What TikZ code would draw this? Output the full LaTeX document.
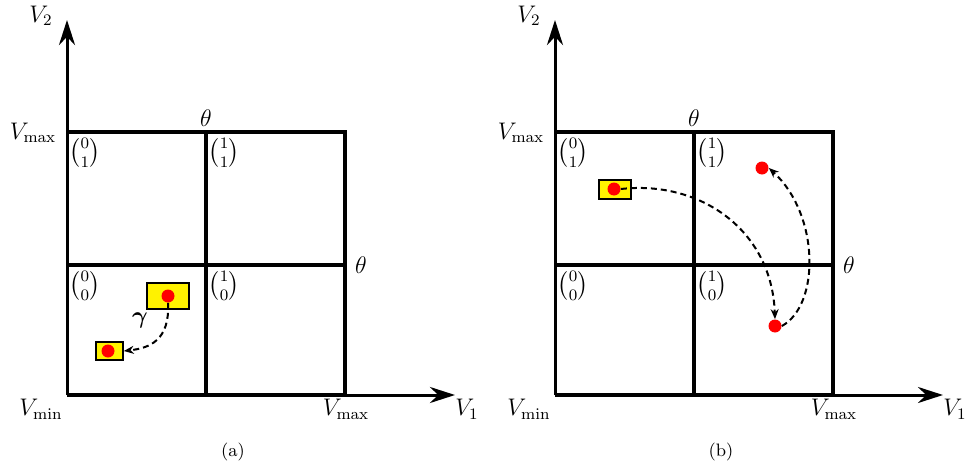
\documentclass[tikz,border=0pt]{standalone}
\usepackage{amsmath}
\usetikzlibrary{arrows.meta}
\begin{document}
\begin{tikzpicture}[x=0.5pt,y=-0.5pt,
  axis/.style={line width=1.5pt,-{Stealth[length=12.5pt,width=8pt]}},
  gridline/.style={line width=2pt},
  lbl/.style={inner sep=0pt,font=\large},
  cell/.style={inner sep=0pt,font=\large},
  captxt/.style={inner sep=0pt,font=\small},
  ybox/.style={draw,line width=0.8pt,fill=yellow,minimum width=#1,inner sep=0pt},
  rdot/.style={circle,fill=red,minimum size=6.5pt,inner sep=0pt},
  traj/.style={line width=1pt,dash pattern=on 3pt off 2pt,-{Stealth[length=5pt,width=4pt]}}]
\useasboundingbox (0,0) rectangle (970,466);
% ---------- panel (a) ----------
\coordinate (a-o) at (67,395);
\coordinate (a-ytip) at (67,20);
\coordinate (a-xtip) at (455,395);
\coordinate (a-tl) at (67,132);
\coordinate (a-tm) at (206,132);
\coordinate (a-tr) at (345,132);
\coordinate (a-ml) at (67,265);
\coordinate (a-mm) at (206,265);
\coordinate (a-mr) at (345,265);
\coordinate (a-bm) at (206,395);
\coordinate (a-br) at (345,395);
\draw[gridline] (a-tl) -- (a-tr) -- (a-br);
\draw[gridline] (a-ml) -- (a-mr);
\draw[gridline] (a-tm) -- (a-bm);
\draw[gridline] (a-o) -- (a-br);
\draw[axis] (a-o) -- (a-ytip);
\draw[axis] (a-br) -- (a-xtip);
\node[lbl] (a-v2) at (41,16) {$V_2$};
\node[lbl] (a-vmaxy) at (33,133) {$V_{\max}$};
\node[lbl] (a-th1) at (206,118) {$\theta$};
\node[lbl] (a-th2) at (361,265) {$\theta$};
\node[lbl] (a-vmin) at (41,409) {$V_{\min}$};
\node[lbl] (a-vmaxx) at (346,409) {$V_{\max}$};
\node[lbl] (a-v1) at (467,409) {$V_1$};
\node[cell] (a-c01) at (85,153) {$\binom{0}{1}$};
\node[cell] (a-c11) at (224,153) {$\binom{1}{1}$};
\node[cell] (a-c00) at (85,286) {$\binom{0}{0}$};
\node[cell] (a-c10) at (224,286) {$\binom{1}{0}$};
\node[ybox=21pt,minimum height=13pt] (a-box1) at (168,296) {};
\node[rdot] (a-dot1) at (168,296) {};
\node[ybox=13.5pt,minimum height=9pt] (a-box2) at (109.5,351) {};
\node[rdot] (a-dot2) at (108,351) {};
\draw[traj] (a-dot1.south) .. controls (170,340) and (150,348) .. (a-box2.east);
\node[lbl] (a-gamma) at (140,320) {$\boldsymbol{\gamma}$};
\node[captxt] (a-cap) at (233,452) {(a)};
% ---------- panel (b) ----------
\coordinate (b-o) at (555,395);
\coordinate (b-ytip) at (555,20);
\coordinate (b-xtip) at (943,395);
\coordinate (b-tl) at (555,132);
\coordinate (b-tm) at (694,132);
\coordinate (b-tr) at (833,132);
\coordinate (b-ml) at (555,265);
\coordinate (b-mm) at (694,265);
\coordinate (b-mr) at (833,265);
\coordinate (b-bm) at (694,395);
\coordinate (b-br) at (833,395);
\draw[gridline] (b-tl) -- (b-tr) -- (b-br);
\draw[gridline] (b-ml) -- (b-mr);
\draw[gridline] (b-tm) -- (b-bm);
\draw[gridline] (b-o) -- (b-br);
\draw[axis] (b-o) -- (b-ytip);
\draw[axis] (b-br) -- (b-xtip);
\node[lbl] (b-v2) at (529,16) {$V_2$};
\node[lbl] (b-vmaxy) at (521,133) {$V_{\max}$};
\node[lbl] (b-th1) at (694,118) {$\theta$};
\node[lbl] (b-th2) at (849,265) {$\theta$};
\node[lbl] (b-vmin) at (529,409) {$V_{\min}$};
\node[lbl] (b-vmaxx) at (834,409) {$V_{\max}$};
\node[lbl] (b-v1) at (955,409) {$V_1$};
\node[cell] (b-c01) at (573,153) {$\binom{0}{1}$};
\node[cell] (b-c11) at (712,153) {$\binom{1}{1}$};
\node[cell] (b-c00) at (573,286) {$\binom{0}{0}$};
\node[cell] (b-c10) at (712,286) {$\binom{1}{0}$};
\node[ybox=16pt,minimum height=9.5pt] (b-box) at (615,189.5) {};
\node[rdot] (b-dot0) at (614,189) {};
\node[rdot] (b-dotA) at (775,326) {};
\node[rdot] (b-dotB) at (762,168) {};
\draw[traj] (b-dot0.east) .. controls (700,180) and (772,230) .. (b-dotA.north);
\draw[traj] (b-dotA.east) .. controls (820,305) and (820,215) .. (b-dotB.east);
\node[captxt] (b-cap) at (721,452) {(b)};
\end{tikzpicture}
\end{document}
